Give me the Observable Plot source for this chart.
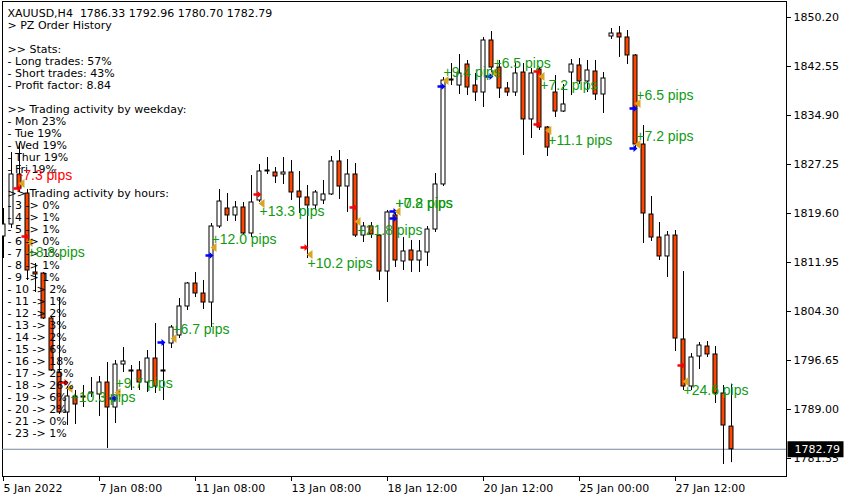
<!DOCTYPE html>
<html><head><meta charset="utf-8">
<script src="https://cdn.jsdelivr.net/npm/d3@7"></script>
<script src="https://cdn.jsdelivr.net/npm/@observablehq/plot@0.6"></script>
<style>body{margin:0;background:#fff;} svg{display:block}</style>
</head><body><div id="chart"></div>
<script>
const symbolName = "XAUUSD";
const timeframe = "H4";

const opens = [1816.01,1817.88,1825.69,1822.72,1810.39,1810.23,1803.21,1794.77,1788.53,1791.03,
1790.87,1791.50,1791.34,1793.21,1789.31,1796.02,1794.93,1795.09,1793.21,1796.96,
1794.93,1799.30,1800.55,1805.08,1808.67,1807.11,1805.70,1817.57,1820.38,1819.29,
1820.54,1816.48,1821.63,1826.16,1826.00,1825.69,1826.00,1823.03,1822.10,1820.85,
1821.63,1822.57,1827.72,1823.81,1825.69,1816.16,1817.57,1816.16,1810.54,1819.29,
1812.11,1813.82,1812.26,1813.51,1817.10,1824.13,1840.36,1839.58,1842.86,1839.58,
1838.49,1846.61,1842.39,1839.12,1838.49,1841.61,1834.28,1842.08,1833.03,1838.49,
1835.52,1841.61,1842.71,1840.21,1841.77,1838.18,1847.23,1847.70,1847.08,1844.27,
1830.37,1819.44,1815.85,1812.89,1816.16,1799.93,1792.59,1797.27,1798.83,1797.59,
1791.50,1786.33];
const highs = [1820.38,1829.12,1830.53,1823.35,1811.79,1810.39,1803.36,1806.48,1792.59,1791.96,
1792.75,1793.99,1794.15,1796.34,1796.65,1798.68,1795.87,1796.49,1798.21,1802.43,
1799.46,1802.11,1806.33,1808.83,1810.39,1809.14,1818.04,1823.35,1822.72,1821.47,
1821.32,1825.53,1827.25,1828.34,1826.78,1828.34,1827.87,1826.16,1823.97,1823.19,
1824.75,1828.50,1829.44,1828.03,1827.41,1818.19,1818.19,1816.32,1820.07,1820.07,
1815.85,1815.38,1815.38,1817.57,1825.84,1840.83,1843.02,1844.42,1843.49,1841.46,
1847.08,1848.01,1843.49,1840.05,1843.02,1843.02,1842.24,1842.39,1833.18,1841.14,
1839.74,1843.64,1843.80,1843.49,1843.49,1841.61,1848.48,1848.80,1848.17,1844.42,
1833.34,1822.25,1818.19,1816.79,1816.95,1810.54,1797.74,1799.46,1799.61,1798.83,
1792.75,1792.96];
const lows = [1812.57,1817.26,1822.88,1809.14,1807.27,1803.05,1794.93,1788.22,1786.50,1786.66,
1789.31,1790.87,1787.91,1782.91,1786.81,1794.77,1791.96,1791.96,1791.65,1791.50,
1790.40,1798.52,1800.08,1804.45,1806.48,1804.61,1801.80,1817.26,1818.35,1818.35,
1816.32,1815.85,1821.32,1825.69,1824.28,1824.13,1821.63,1819.60,1812.57,1820.07,
1821.00,1822.41,1821.79,1819.76,1815.85,1815.07,1815.70,1809.14,1805.70,1811.17,
1810.70,1810.39,1810.39,1811.32,1816.63,1823.81,1839.58,1838.18,1838.02,1837.09,
1836.15,1841.61,1837.55,1837.87,1837.87,1828.65,1831.31,1832.56,1828.50,1834.59,
1835.37,1838.02,1839.74,1838.49,1837.24,1835.21,1846.77,1843.96,1842.86,1829.44,
1814.92,1815.23,1812.26,1809.61,1798.05,1791.96,1791.96,1795.24,1797.12,1789.93,
1780.41,1780.70];
const closes = [1817.88,1825.69,1823.50,1810.70,1810.08,1803.21,1795.09,1788.53,1791.03,1789.78,
1791.03,1791.65,1793.21,1789.31,1796.02,1796.49,1795.09,1793.21,1796.96,1792.59,
1795.09,1801.80,1805.08,1808.67,1807.11,1805.70,1817.57,1821.47,1819.29,1820.54,
1816.48,1821.32,1826.16,1826.31,1825.38,1826.00,1822.88,1822.10,1820.85,1822.88,
1822.57,1827.72,1823.81,1825.69,1816.16,1817.57,1816.32,1810.54,1819.76,1812.26,
1813.67,1812.26,1813.67,1817.10,1824.13,1840.36,1840.52,1841.46,1839.27,1838.49,
1846.61,1842.39,1839.12,1838.49,1841.46,1834.28,1841.46,1833.03,1829.90,1835.52,
1836.62,1842.86,1840.21,1841.93,1838.18,1840.68,1847.70,1847.08,1844.27,1830.37,
1819.60,1815.85,1812.89,1816.16,1800.08,1792.59,1797.12,1798.99,1797.59,1791.50,
1786.50,1782.79];

const yTicks = [1781.35,1789.00,1796.65,1804.30,1811.95,1819.60,1827.25,1834.90,1842.55,1850.20];
const xTickBars = [0,12,24,36,48,60,72,84];
const xTickLabels = ["5 Jan 2022","7 Jan 08:00","11 Jan 08:00","13 Jan 08:00","18 Jan 12:00","20 Jan 12:00","25 Jan 00:00","27 Jan 12:00"];

const entryBars = [1.75,2.75,7.63,13.75,19.75,25.75,31.75,37.63,43.75,48.75,48.75,54.75,60.75,66.75,66.75,78.75,78.75,84.75];
const entryPrices = [1823.50,1816.01,1793.21,1790.71,1799.46,1813.04,1822.57,1814.29,1820.54,1819.91,1818.82,1839.43,1840.99,1841.77,1833.49,1835.99,1829.75,1795.87];
const entrySides = ["sell","sell","sell","buy","buy","buy","sell","sell","sell","buy","buy","buy","buy","sell","sell","buy","buy","sell"];
const exitBars = [2.25,3.25,8.25,14.25,21.25,26.25,32.25,38.25,44.25,49.25,55.25,61.25,67.25,68.1,79.25,79.25,85.25];
const exitPrices = [1824.28,1815.07,1792.28,1791.65,1800.08,1814.29,1821.16,1813.20,1818.35,1819.91,1840.36,1841.61,1840.99,1832.56,1836.77,1830.37,1793.37];

const labelBars = [1.88,3.0,8.38,14.0,21.1,26.0,32.0,38.0,44.25,49.0,49.0,55.0,61.25,67.1,68.1,79.1,79.1,85.0];
const labelPrices = [1825.53,1813.51,1790.87,1793.05,1801.49,1815.54,1819.91,1811.79,1816.95,1821.16,1821.16,1841.61,1843.02,1839.58,1831.00,1838.02,1831.62,1791.96];
const labelTexts = ["-7.3 pips","+8.8 pips","+10.3 pips","+9.7 pips","+6.7 pips","+12.0 pips","+13.3 pips","+10.2 pips","+21.8 pips","+7.2 pips","+0.8 pips","+9.4 pips","+6.5 pips","+7.2 pips","+11.1 pips","+6.5 pips","+7.2 pips","+24.6 pips"];

const statNames = ["Long trades","Short trades","Profit factor"];
const statValues = ["57%","43%","8.84"];
const weekdays = ["Mon","Tue","Wed","Thur","Fri"];
const weekdayPct = [23,19,19,19,19];
const hours = [3,4,5,6,7,8,9,10,11,12,13,14,15,16,17,18,19,20,21,23];
const hourPct = [0,1,1,0,1,1,1,2,1,2,3,2,6,18,25,26,6,2,0,1];

const bars = opens.map((o,i)=>({i, open:o, high:highs[i], low:lows[i], close:closes[i]}));
const upBars = bars.filter(d=>d.close>=d.open);
const downBars = bars.filter(d=>d.close<d.open);
const last = bars[bars.length-1];
const fmt = v => v.toFixed(2);

const entries = entryBars.map((b,k)=>({b, p:entryPrices[k], side:entrySides[k]}));
const exits = exitBars.map((b,k)=>({b, p:exitPrices[k]}));
const labels = labelBars.map((b,k)=>({b, p:labelPrices[k], t:labelTexts[k]}));

const NB = "\u00a0";
const blockLines = [
  `${symbolName},${timeframe}${NB} ${fmt(last.open)} ${fmt(last.high)} ${fmt(last.low)} ${fmt(last.close)}`,
  "> PZ Order History", NB,
  ">> Stats:",
  ...statNames.map((n,k)=>`- ${n}: ${statValues[k]}`), NB,
  ">> Trading activity by weekday:",
  ...weekdays.map((w,k)=>`- ${w} ${weekdayPct[k]}%`), NB,
  ">> Trading activity by hours:",
  ...hours.map((h,k)=>`- ${h} -> ${hourPct[k]}%`)
];
const blockText = blockLines.join("\n");

const arrowRight = {draw(ctx){ctx.moveTo(-4,-1.3);ctx.lineTo(0,-1.3);ctx.lineTo(0,-3.6);ctx.lineTo(4,0);ctx.lineTo(0,3.6);ctx.lineTo(0,1.3);ctx.lineTo(-4,1.3);ctx.closePath();}};
const triLeft = {draw(ctx){ctx.moveTo(-3,0);ctx.lineTo(3,-4.5);ctx.lineTo(3,4.5);ctx.closePath();}};
const priceBox = {draw(ctx){ctx.moveTo(1,-8);ctx.lineTo(57,-8);ctx.lineTo(57,8);ctx.lineTo(1,8);ctx.closePath();}};

const chart = Plot.plot({
  width: 850, height: 500,
  marginLeft: 2, marginRight: 64, marginTop: 1, marginBottom: 24,
  style: {fontFamily: "DejaVu Sans", fontSize: "11px", background: "white", color: "black"},
  x: {type: "linear", domain: [0, 91], range: [3, 731], label: null},
  y: {type: "linear", domain: [1781.35, 1850.20], range: [458, 17], label: null},
  marks: [
    Plot.frame({stroke: "black"}),
    Plot.ruleY([last.close], {stroke: "#778899"}),
    Plot.ruleX(bars, {x: "i", y1: "low", y2: "high", stroke: "black", clip: true}),
    Plot.rect(upBars, {x1: d=>d.i-0.25, x2: d=>d.i+0.25, y1: "open", y2: "close", fill: "white", stroke: "black", clip: true}),
    Plot.rect(downBars, {x1: d=>d.i-0.25, x2: d=>d.i+0.25, y1: "open", y2: "close", fill: "#ff4500", stroke: "black", clip: true}),
    Plot.dot(entries, {x: "b", y: "p", symbol: arrowRight, fill: d=>d.side==="buy"?"#0000ff":"#ff0000", stroke: "none"}),
    Plot.dot(exits, {x: "b", y: "p", symbol: triLeft, fill: "#daa520", stroke: "none"}),
    Plot.text(blockText ? [blockText] : [], {frameAnchor: "top-left", dx: 5, dy: 7, lineAnchor: "top", textAnchor: "start", lineHeight: 12/11, fontSize: 11, fill: "black"}),
    Plot.text(labels, {x: "b", y: "p", text: "t", textAnchor: "start", fontFamily: "Liberation Sans", fontSize: 14, fill: d=>d.t.startsWith("-")?"#ff0000":"#109a10"}),
    Plot.axisY({anchor: "right", ticks: yTicks, tickFormat: fmt, tickSize: 4, tickPadding: 3, label: null, fill: "black"}),
    Plot.axisX({anchor: "bottom", ticks: xTickBars, tickFormat: d=>xTickLabels[xTickBars.indexOf(d)], tickSize: 5, tickPadding: 3, textAnchor: "start", label: null, fill: "black"}),
    Plot.dot([last.close], {y: d=>d, frameAnchor: "right", symbol: priceBox, fill: "black", stroke: "none"}),
    Plot.text([last.close], {y: d=>d, frameAnchor: "right", text: fmt, textAnchor: "start", dx: 8, fill: "white", fontSize: 11})
  ]
});
document.getElementById("chart").appendChild(chart);
</script>
</body></html>
